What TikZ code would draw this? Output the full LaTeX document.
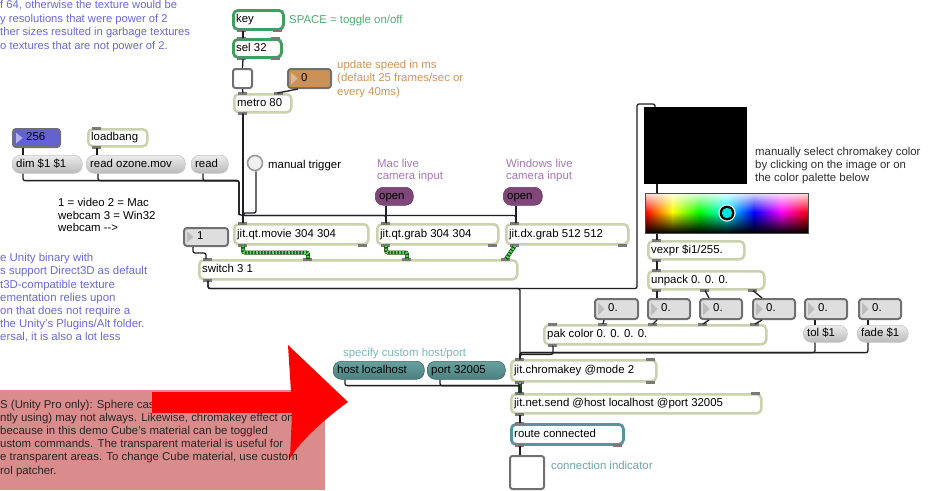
\documentclass[tikz,border=0pt]{standalone}
\usepackage{fontspec}
\setmainfont{Liberation Sans}
\usetikzlibrary{fadings}
\definecolor{objc}{RGB}{201,209,173}
\definecolor{keyg}{RGB}{66,158,94}
\definecolor{routec}{RGB}{84,150,155}
\definecolor{numb}{RGB}{112,112,112}
\definecolor{numgray}{RGB}{222,222,222}
\definecolor{trigray}{RGB}{188,188,188}
\definecolor{bluefill}{RGB}{98,98,210}
\definecolor{bluetri}{RGB}{178,178,236}
\definecolor{orafill}{RGB}{205,145,85}
\definecolor{oratri}{RGB}{214,186,156}
\definecolor{msgtop}{RGB}{236,236,236}
\definecolor{msgbot}{RGB}{186,186,186}
\definecolor{tealtop}{RGB}{104,160,160}
\definecolor{tealbot}{RGB}{76,128,128}
\definecolor{teald}{RGB}{60,105,105}
\definecolor{openc}{RGB}{128,72,122}
\definecolor{jdark}{RGB}{30,70,30}
\definecolor{jlight}{RGB}{80,225,80}
\definecolor{bluec}{RGB}{105,105,215}
\definecolor{orac}{RGB}{208,148,88}
\definecolor{greenc}{RGB}{80,172,112}
\definecolor{purpc}{RGB}{168,118,180}
\definecolor{tealc}{RGB}{122,184,186}
\definecolor{tealc2}{RGB}{108,166,170}
\definecolor{pinkc}{RGB}{218,140,140}
\definecolor{cyanc}{RGB}{0,228,218}
\tikzfading[name=fadetopw, top color=transparent!12, bottom color=transparent!100]
\tikzfading[name=fadebotk, top color=transparent!100, bottom color=transparent!0]
\newcommand\maxfont{\fontsize{11.4}{13.3}\selectfont}
\newcommand\mx[7]{\node[#1, minimum width=#5pt, minimum height=#6pt, label={[mtext]west:{#7}}] (#2) at (#3,#4) {};}
\newcommand\mnum[8]{\node[numbox, fill=#6, minimum width=#4pt, minimum height=#5pt, label={[mtext, xshift=10pt]west:{#8}}] (#1) at (#2,#3) {};
\fill[#7] ([xshift=4pt,yshift=-4.5pt]#1.north west) -- ([xshift=4pt,yshift=4.5pt]#1.south west) -- ([xshift=10.5pt]#1.west) -- cycle;}
\newcommand\tabT[2]{\fill[tabc] ([xshift=#2pt,yshift=1.2pt]#1.north west) rectangle ++(9,3.2);}
\newcommand\tabB[2]{\fill[tabc] ([xshift=#2pt,yshift=-1.2pt]#1.south west) rectangle ++(9,-3.2);}
\newcommand\tabTR[2]{\fill[tabc] ([xshift=-#2pt,yshift=1.2pt]#1.north east) rectangle ++(-9,3.2);}
\newcommand\tabBR[2]{\fill[tabc] ([xshift=-#2pt,yshift=-1.2pt]#1.south east) rectangle ++(-9,-3.2);}
\tikzset{
 mbase/.style={anchor=north west, inner sep=0pt},
 obj/.style={mbase, draw=objc, line width=2.5pt, rounded corners=4.5pt, fill=white},
 gbox/.style={mbase, draw=keyg, line width=2.8pt, rounded corners=4.5pt, fill=white},
 tealbox/.style={mbase, draw=routec, line width=2.8pt, rounded corners=4.5pt, fill=white},
 msg/.style={mbase, draw=black!22, line width=0.6pt, rounded corners=8pt, top color=msgtop, bottom color=msgbot},
 tealmsg/.style={mbase, draw=teald, line width=0.6pt, rounded corners=8pt, top color=tealtop, bottom color=tealbot},
 openmsg/.style={mbase, rounded corners=8pt, fill=openc, draw=openc!80!black, line width=0.6pt},
 numbox/.style={mbase, draw=numb, line width=2pt, rounded corners=3pt},
 tog/.style={mbase, draw=numb, line width=2pt, rounded corners=2.5pt, fill=white},
 mtext/.style={anchor=west, xshift=4pt, inner sep=0pt, font=\maxfont, text height=8.2pt, text depth=2.4pt},
 cmt/.style={inner sep=0pt, font=\maxfont, align=left, anchor=north west},
 lbl/.style={inner sep=0pt, font=\maxfont, anchor=base west},
 cord/.style={draw=black!88, line width=1.3pt, rounded corners=2pt},
 jcord/.style={draw=jdark, line width=4pt, rounded corners=2pt, postaction={draw=jlight, line width=2.8pt, dash pattern=on 1.7pt off 1.5pt}},
 tabc/.style={fill=black!52},
}
\begin{document}
\begin{tikzpicture}[x=1pt, y=-1pt]
\useasboundingbox (0,0) rectangle (931,490);
\fill[white] (0,0) rectangle (931,490);

% ---------- comments ----------
\node[cmt, text=bluec, font={\fontsize{11.2}{13.5}\selectfont}] (ctop) at (0,0.2)
 {f 64, otherwise the texture would be\\y resolutions that were power of 2\\ther sizes resulted in garbage textures\\o textures that are not power of 2.};
\node[cmt, text=bluec, font={\fontsize{11.4}{13.2}\selectfont}] (cmid) at (0,253.3)
 {e Unity binary with\\s support Direct3D as default\\t3D-compatible texture\\ementation relies upon\\on that does not require a\\the Unity's Plugins/Alt folder.\\ersal, it is also a lot less};
\node[cmt, font={\fontsize{11.4}{12.2}\selectfont}] (cvid) at (58,198.4)
 {1 = video 2 = Mac\\webcam 3 = Win32\\webcam -{}-{}>};
\node[lbl, text=greenc] (cspace) at (289,23.3) {SPACE = toggle on/off};
\node[cmt, text=orac, font={\fontsize{11.4}{13.5}\selectfont}] (cspeed) at (337,59.7)
 {update speed in ms\\(default 25 frames/sec or\\every 40ms)};
\node[lbl] (ctrig) at (268,168) {manual trigger};
\node[cmt, text=purpc, font={\fontsize{11.4}{12}\selectfont}] (cmac) at (377,158.7) {Mac live\\camera input};
\node[cmt, text=purpc, font={\fontsize{11.4}{12}\selectfont}] (cwin) at (506,158.7) {Windows live\\camera input};
\node[cmt, text=black!82, font={\fontsize{11.4}{13.4}\selectfont}] (cman) at (755,146.7)
 {manually select chromakey color\\by clicking on the image or on\\the color palette below};
\node[lbl, text=tealc] (chost) at (343,356) {specify custom host/port};
\node[lbl, text=tealc2] (cconn) at (551,469) {connection indicator};

% ---------- pink comment ----------
\node[mbase, fill=pinkc, minimum width=325pt, minimum height=100pt] (pinkbox) at (0,390) {};
\begin{scope}
\clip (0,390) rectangle (297,490);
\node[cmt, text=black!85, font={\fontsize{11.4}{13.2}\selectfont}] (cpink) at (0,399.7)
 {S (Unity Pro only): Sphere cas\\ntly using) may not always. Likewise, chromakey effect on\\because in this demo Cube's material can be toggled\\ustom commands. The transparent material is useful for\\e transparent areas. To change Cube material, use custom\\rol patcher.};
\end{scope}

% ---------- red arrow ----------
\fill[red] (152,392) -- (291,392) -- (288,345) .. controls (308,364) and (328,383) .. (348,402)
  .. controls (326,418) and (303,438) .. (290,458) -- (292,413) -- (152,413) -- cycle;

% ---------- objects ----------
\mx{gbox}{key}{232}{9}{50}{19}{key}
\mx{gbox}{sel}{232}{38}{48}{18}{sel 32}
\node[tog, minimum width=19pt, minimum height=19pt] (tog) at (232,68) {};
\mnum{numz}{287}{68}{43}{19}{orafill}{oratri}{0}
\mx{obj}{metro}{233}{93}{57}{18}{metro 80}

\mnum{nbig}{12}{128}{47}{18}{bluefill}{bluetri}{256}
\mx{obj}{loadb}{87}{128}{59}{17}{loadbang}
\mx{msg}{dim}{12}{155}{70}{18}{dim \$1 \$1}
\mx{msg}{rozone}{86}{155}{99}{18}{read ozone.mov}
\mx{msg}{rread}{191}{155}{37}{18}{read}
\node[circle, draw=black!40, line width=1.6pt, fill=black!6, minimum size=15pt, inner sep=0pt] (btn) at (255,163) {};

\mx{openmsg}{openmac}{375}{187}{38}{18}{open}
\mx{openmsg}{openwin}{503}{187}{39}{18}{open}

\mx{obj}{qtmovie}{233}{223}{134}{20}{jit.qt.movie 304 304}
\mx{obj}{qtgrab}{376}{223}{121}{20}{jit.qt.grab 304 304}
\mx{obj}{dxgrab}{505}{223}{122}{20}{jit.dx.grab 512 512}
\mnum{nsw}{183}{227}{44}{18}{numgray}{trigray}{1}
\mx{obj}{switch}{198}{259}{318}{19}{switch 3 1}

% picture window and colour palette
\node[mbase, fill=black, minimum width=103pt, minimum height=77pt] (pwin) at (644,107) {};
\shade[left color=red, right color=yellow] (645,193) rectangle (672.5,233);
\shade[left color=yellow, right color=green] (672.2,193) rectangle (699.6,233);
\shade[left color=green, right color=cyan] (699.3,193) rectangle (726.8,233);
\shade[left color=cyan, right color=blue] (726.5,193) rectangle (754,233);
\shade[left color=blue, right color=magenta] (753.7,193) rectangle (781.1,233);
\shade[left color=magenta, right color=red] (780.8,193) rectangle (808,233);
\fill[white, path fading=fadetopw] (645,193) rectangle (808,212);
\fill[black, path fading=fadebotk] (645,212) rectangle (808,233);
\node[mbase, draw=black!70, line width=0.8pt, minimum width=163pt, minimum height=40pt] (swatch) at (645,193) {};
\fill[white] (727,213) circle (8.6);
\fill[black] (727,213) circle (7.4);
\fill[cyanc] (727,213) circle (5.2);

\mx{obj}{vexpr}{647}{240}{96}{18}{vexpr \$i1/255.}
\mx{obj}{unpack}{647}{270}{116}{18}{unpack 0. 0. 0.}
\mnum{nA}{594}{298}{43}{20}{numgray}{trigray}{0.}
\mnum{nB}{647}{298}{42}{20}{numgray}{trigray}{0.}
\mnum{nC}{699}{298}{42}{20}{numgray}{trigray}{0.}
\mnum{nD}{752}{298}{42}{20}{numgray}{trigray}{0.}
\mnum{nE}{804}{298}{42}{20}{numgray}{trigray}{0.}
\mnum{nF}{858}{298}{42}{20}{numgray}{trigray}{0.}
\mx{obj}{pak}{543}{324}{222}{19}{pak color 0. 0. 0. 0.}
\mx{msg}{tol}{803}{325}{44}{17}{tol \$1}
\mx{msg}{fade}{857}{325}{51}{17}{fade \$1}

\mx{tealmsg}{host}{333}{361}{91}{18}{host localhost}
\mx{tealmsg}{port}{427}{361}{78}{18}{port 32005}
\mx{obj}{chroma}{510}{359}{145}{21}{jit.chromakey @mode 2}
\mx{obj}{netsend}{510}{393}{250}{19}{jit.net.send @host localhost @port 32005}
\mx{tealbox}{route}{510}{423}{112}{20}{route connected}
\node[tog, minimum width=34pt, minimum height=33pt] (tog2) at (509,455) {};

% ---------- tabs ----------
\tabB{key}{5}\tabBR{key}{3}
\tabT{sel}{5}\tabTR{sel}{3}\tabB{sel}{5}\tabBR{sel}{3}
\tabT{metro}{5}\tabTR{metro}{10}\tabB{metro}{5}
\tabT{loadb}{5}\tabB{loadb}{5}
\tabT{qtmovie}{5}\tabB{qtmovie}{5}\tabBR{qtmovie}{3}
\tabT{qtgrab}{5}\tabB{qtgrab}{5}\tabBR{qtgrab}{3}
\tabT{dxgrab}{5}\tabB{dxgrab}{5}\tabBR{dxgrab}{3}
\tabT{switch}{5}\tabT{switch}{105}\tabT{switch}{204}\tabT{switch}{303}\tabB{switch}{5}
\tabT{vexpr}{5}\tabB{vexpr}{5}
\tabT{unpack}{5}\tabB{unpack}{5}\tabB{unpack}{53}\tabB{unpack}{101}
\tabT{pak}{5}\tabT{pak}{55}\tabT{pak}{105}\tabT{pak}{155}\tabT{pak}{207}\tabB{pak}{5}
\tabT{chroma}{5}\tabTR{chroma}{3}\tabB{chroma}{5}\tabBR{chroma}{3}
\tabT{netsend}{5}\tabTR{netsend}{3}\tabB{netsend}{5}
\tabT{route}{5}\tabB{route}{5}\tabBR{route}{3}

% ---------- cords ----------
\draw[cord] ([xshift=11pt]key.south west) -- ([xshift=11pt]sel.north west);
\draw[cord] ([xshift=11pt]sel.south west) -- ([xshift=10.5pt]tog.north west);
\draw[cord] ([xshift=10.5pt]tog.south west) -- ([xshift=10pt]metro.north west);
\draw[cord] ([xshift=11pt]numz.south west) -- ([xshift=-15pt]metro.north east);
\draw[cord] ([xshift=10pt]metro.south west) -- ([xshift=10pt]qtmovie.north west);
\draw[cord] ([xshift=10pt]metro.south west) -- ++(0,102) -| ([xshift=10pt]qtgrab.north west);
\draw[cord] ([xshift=10pt]metro.south west) -- ++(0,102) -| ([xshift=11pt]dxgrab.north west);
\draw[cord] ([xshift=1pt]btn.south) |- ([xshift=10pt,yshift=10pt]qtmovie.north west) -- ([xshift=10pt]qtmovie.north west);
\draw[cord] ([xshift=11pt]openmac.south west) -- ([xshift=10pt]qtgrab.north west);
\draw[cord] ([xshift=13pt]openwin.south west) -- ([xshift=11pt]dxgrab.north west);
\draw[cord] ([xshift=11pt]nbig.south west) -- ([xshift=11pt]dim.north west);
\draw[cord] ([xshift=10pt]loadb.south west) -- ([xshift=11pt]rozone.north west);
\draw[cord] ([xshift=11pt]dim.south west) -- ++(0,7) -| ([xshift=6pt,yshift=8pt]qtmovie.north west) -| ([xshift=10pt]qtmovie.north west);
\draw[cord] ([xshift=12pt]rozone.south west) -- ++(0,7) -| ([xshift=6pt,yshift=8pt]qtmovie.north west);
\draw[cord] ([xshift=12pt]rread.south west) -- ++(0,7) -| ([xshift=6pt,yshift=8pt]qtmovie.north west);
\draw[cord] ([xshift=10pt]nsw.south west) -- ++(0,6) -| ([xshift=8pt]switch.north west);
\draw[jcord] ([xshift=10pt]qtmovie.south west) -- ++(0,7) -| ([xshift=110pt]switch.north west);
\draw[jcord] ([xshift=10pt]qtgrab.south west) -- ++(0,7) -| ([xshift=209pt]switch.north west);
\draw[jcord] ([xshift=10pt]dxgrab.south west) -- ([xshift=308pt]switch.north west);
\draw[cord] ([xshift=10pt]switch.south west) -- ++(0,8) -| ([xshift=10pt]chroma.north west);
\draw[cord] ([xshift=10pt]switch.south west) -- ++(0,8) -- ++(429,0) |- ([xshift=11pt,yshift=3pt]pwin.north west) -- ([xshift=11pt]pwin.north west);
\draw[cord] ([xshift=13pt]pwin.south west) -- ([xshift=12pt]swatch.north west);
\draw[cord] ([xshift=12pt]swatch.south west) -- ([xshift=10pt]vexpr.north west);
\draw[cord] ([xshift=10pt]vexpr.south west) -- ([xshift=10pt]unpack.north west);
\draw[cord] ([xshift=10pt]unpack.south west) -- ([xshift=10pt]nB.north west);
\draw[cord] ([xshift=58pt]unpack.south west) -- ([xshift=10pt]nC.north west);
\draw[cord] ([xshift=106pt]unpack.south west) -- ([xshift=10pt]nD.north west);
\draw[cord] ([xshift=10pt]nA.south west) -- ([xshift=60pt]pak.north west);
\draw[cord] ([xshift=10pt]nB.south west) -- ([xshift=110pt]pak.north west);
\draw[cord] ([xshift=10pt]nC.south west) -- ([xshift=160pt]pak.north west);
\draw[cord] ([xshift=10pt]nD.south west) -- ([xshift=212pt]pak.north west);
\draw[cord] ([xshift=11pt]nE.south west) -- ([xshift=12pt]tol.north west);
\draw[cord] ([xshift=10pt]nF.south west) -- ([xshift=11pt]fade.north west);
\draw[cord] ([xshift=10pt]pak.south west) -- ++(0,9) -| ([xshift=10pt]chroma.north west);
\draw[cord] ([xshift=12pt]tol.south west) -- ++(0,10) -| ([xshift=10pt]chroma.north west);
\draw[cord] ([xshift=11pt]fade.south west) -- ++(0,10) -| ([xshift=10pt]chroma.north west);
\draw[jcord] ([xshift=10pt]chroma.south west) -- ([xshift=10pt]netsend.north west);
\draw[cord] ([xshift=12pt]host.south west) -- ++(0,6) -| ([xshift=10pt]netsend.north west);
\draw[cord] ([xshift=13pt]port.south west) -- ++(0,6) -| ([xshift=10pt]netsend.north west);
\draw[cord] ([xshift=10pt]netsend.south west) -- ([xshift=10pt]route.north west);
\draw[cord] ([xshift=10pt]route.south west) -- ([xshift=11pt]tog2.north west);
\end{tikzpicture}
\end{document}
